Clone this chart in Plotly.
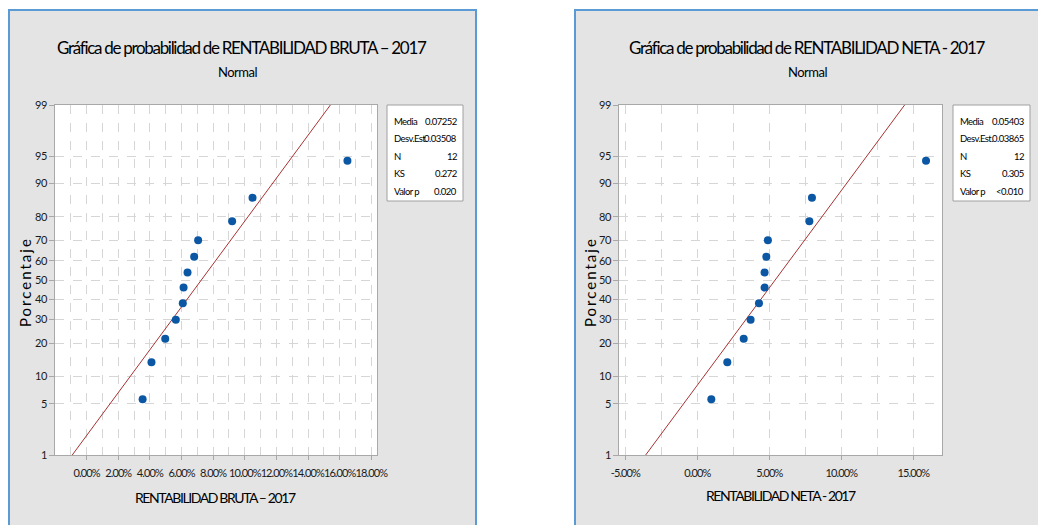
from statistics import NormalDist
import plotly.graph_objects as go

W, H = 1038, 525
nd = NormalDist()

# Probability-scale tick labels (percent)
pct_ticks = [1, 5, 10, 20, 30, 40, 50, 60, 70, 80, 90, 95, 99]

# Observed values (sorted)
bruta_values = [0.0354, 0.0410, 0.0497, 0.0564, 0.0608, 0.0613,
                0.0638, 0.0680, 0.0705, 0.0920, 0.1049, 0.1649]
neta_values = [0.0097, 0.0208, 0.0322, 0.0370, 0.0428, 0.0467,
               0.0467, 0.0479, 0.0490, 0.0778, 0.0796, 0.1588]

# X-axis tick values for each panel
bruta_xticks = [0.00, 0.02, 0.04, 0.06, 0.08, 0.10, 0.12, 0.14, 0.16, 0.18]
neta_xticks = [-0.05, 0.00, 0.05, 0.10, 0.15]

# Summary table
stat_labels = ["Media", "Desv.Est.", "N", "KS", "Valor p"]
bruta_stats = ["0.07252", "0.03508", "12", "0.272", "0.020"]
neta_stats = ["0.05403", "0.03865", "12", "0.305", "<0.010"]

FONT = "Lato, Roboto, Liberation Sans, sans-serif"
TEXT = "#000000"
PANEL = "#e4e4e4"
BORDER = "#5b9bd5"
GRID = "#d6d6d6"
FRAME = "#a8a8a8"


def px(x):
    return x / W


def py(y):
    return 1 - y / H


def tight(s, spacing):
    return f"<span style='letter-spacing:{spacing}px'>{s}</span>"


def median_rank_z(n):
    return [nd.inv_cdf((i - 0.3) / (n + 0.4)) for i in range(1, n + 1)]


z_lo, z_hi = nd.inv_cdf(0.01), nd.inv_cdf(0.99)
tick_z = [nd.inv_cdf(p / 100) for p in pct_ticks]

fig = go.Figure()


def add_panel(values, stats, xa, ya):
    n = len(values)
    mean, sd = float(stats[0]), float(stats[1])
    fig.add_trace(go.Scatter(
        x=[mean + sd * z_lo, mean + sd * z_hi], y=[z_lo, z_hi],
        mode="lines", line=dict(color="#a83232", width=1),
        xaxis=xa, yaxis=ya, hoverinfo="skip", showlegend=False))
    fig.add_trace(go.Scatter(
        x=values, y=median_rank_z(n), mode="markers",
        marker=dict(color="#0b57a4", size=8),
        xaxis=xa, yaxis=ya, hoverinfo="skip", showlegend=False))


add_panel(bruta_values, bruta_stats, "x", "y")
add_panel(neta_values, neta_stats, "x2", "y2")

shapes = []
annotations = []

# Panel backgrounds
for x0, x1 in [(9, 476), (575, 1045)]:
    shapes.append(dict(type="rect", xref="paper", yref="paper",
                       x0=px(x0), x1=px(x1), y0=py(540), y1=py(10),
                       fillcolor=PANEL, line=dict(color=BORDER, width=2),
                       layer="below"))

# White plotting regions
for x0, x1 in [(55, 377), (619, 942)]:
    shapes.append(dict(type="rect", xref="paper", yref="paper",
                       x0=px(x0), x1=px(x1), y0=py(455), y1=py(105),
                       fillcolor="white", line=dict(width=0), layer="below"))

# Summary boxes
for (bx0, bx1, lx, vx), stats in [((387, 463, 392, 459), bruta_stats),
                                   ((953, 1030, 958, 1026), neta_stats)]:
    shapes.append(dict(type="rect", xref="paper", yref="paper",
                       x0=px(bx0), x1=px(bx1), y0=py(201), y1=py(105),
                       fillcolor="white", line=dict(color="#a0a0a0", width=1)))
    for k, (lab, val) in enumerate(zip(stat_labels, stats)):
        yy = 121 + k * 17.5
        annotations.append(dict(text=tight(lab, -0.6), x=px(lx), y=py(yy),
                                xref="paper", yref="paper",
                                xanchor="left", yanchor="middle", showarrow=False,
                                font=dict(family=FONT, size=9.5, color=TEXT)))
        annotations.append(dict(text=tight(val, -0.5), x=px(vx), y=py(yy),
                                xref="paper", yref="paper",
                                xanchor="right", yanchor="middle", showarrow=False,
                                font=dict(family=FONT, size=9.5, color=TEXT)))

# Titles and axis labels
texts = [
    ("Gráfica de probabilidad de RENTABILIDAD BRUTA – 2017", 242, 48, 17, -1.3),
    ("Normal", 237, 72, 13, -0.5),
    ("Gráfica de probabilidad de RENTABILIDAD NETA - 2017", 807, 48, 17, -1.3),
    ("Normal", 807, 72, 13, -0.5),
    ("RENTABILIDAD BRUTA – 2017", 215, 497, 14, -1.4),
    ("RENTABILIDAD NETA - 2017", 781, 495, 14, -1.4),
]
for t, x, y, s, ls in texts:
    annotations.append(dict(text=tight(t, ls), x=px(x), y=py(y), xref="paper", yref="paper",
                            xanchor="center", yanchor="middle", showarrow=False,
                            font=dict(family=FONT, size=s, color=TEXT)))
for x in (25, 590):
    annotations.append(dict(text=tight("Porcentaje", 2), x=px(x), y=py(282),
                            xref="paper", yref="paper",
                            xanchor="center", yanchor="middle", showarrow=False, textangle=-90,
                            font=dict(family=FONT, size=15, color=TEXT)))


def pct_labels(vals):
    return [tight(f"{v * 100:.2f}%", -0.9) for v in vals]


common_x = dict(showgrid=True, gridcolor=GRID, griddash="dash", gridwidth=1,
                zeroline=False, showline=True, mirror=True, linecolor=FRAME, linewidth=1,
                ticks="outside", ticklen=4, tickcolor=FRAME, tickangle=0, automargin=False,
                ticklabelstandoff=4,
                tickfont=dict(family=FONT, size=11, color="#1a1a1a"))
common_y = dict(range=[z_lo, z_hi], tickvals=tick_z,
                ticktext=[tight(str(p), -0.5) for p in pct_ticks],
                showgrid=True, gridcolor=GRID, griddash="dash", gridwidth=1,
                zeroline=False, showline=True, mirror=True, linecolor=FRAME, linewidth=1,
                ticks="outside", ticklen=5, tickcolor=FRAME, automargin=False,
                tickfont=dict(family=FONT, size=11, color="#1a1a1a"))

fig.update_layout(
    width=W, height=H,
    margin=dict(l=0, r=0, t=0, b=0, autoexpand=False),
    paper_bgcolor="white", plot_bgcolor="rgba(0,0,0,0)",
    showlegend=False,
    xaxis=dict(common_x, domain=[px(55), px(377)], range=[-0.0200, 0.1836],
               tickvals=bruta_xticks, ticktext=pct_labels(bruta_xticks), anchor="y",
               minor=dict(dtick=0.01, tick0=0, showgrid=True, gridcolor=GRID, griddash="dash")),
    yaxis=dict(common_y, domain=[py(455), py(105)], anchor="x"),
    xaxis2=dict(common_x, domain=[px(619), px(942)], range=[-0.0544, 0.1699],
                tickvals=neta_xticks, ticktext=pct_labels(neta_xticks), anchor="y2",
                minor=dict(dtick=0.025, tick0=0, showgrid=True, gridcolor=GRID, griddash="dash")),
    yaxis2=dict(common_y, domain=[py(455), py(105)], anchor="x2"),
    shapes=shapes,
    annotations=annotations,
)

fig.write_html("out.html")
